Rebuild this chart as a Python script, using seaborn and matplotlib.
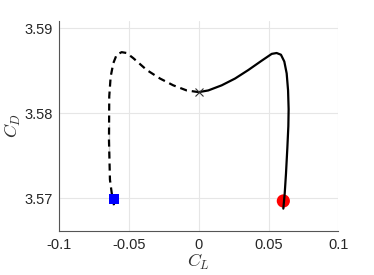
import numpy as np
import pandas as pd
import matplotlib
matplotlib.use("Agg")
import matplotlib.pyplot as plt
import seaborn as sns

# solid branch (positive C_L)
cl_pos = [0.0, 0.0068, 0.0164, 0.0260, 0.0355, 0.0451, 0.0523, 0.0558,
          0.0589, 0.0613, 0.0630, 0.0640, 0.0644, 0.0642, 0.0635, 0.0625, 0.0616, 0.0606]
cd_pos = [3.5825, 3.5827, 3.5833, 3.5841, 3.5851, 3.5862, 3.5870, 3.5871,
          3.5869, 3.5861, 3.5847, 3.5827, 3.5805, 3.5785, 3.5760, 3.5729, 3.5706, 3.5688]

# dashed branch (negative C_L)
cl_neg = [0.0, -0.0087, -0.0183, -0.0278, -0.0373, -0.0470, -0.0517, -0.0553,
          -0.0589, -0.0613, -0.0632, -0.0642, -0.0644, -0.0644, -0.0637, -0.0624, -0.0608]
cd_neg = [3.5825, 3.5827, 3.5833, 3.5841, 3.5851, 3.5865, 3.5871, 3.5872,
          3.5869, 3.5859, 3.5843, 3.5820, 3.5788, 3.5749, 3.5722, 3.5706, 3.5692]

start_pt = (0.0, 3.5825)
end_neg = (-0.0608, 3.5699)
end_pos = (0.0606, 3.5697)

sns.set_theme(style="white")
plt.rcParams["font.family"] = ["Liberation Sans", "DejaVu Sans"]
plt.rcParams["mathtext.fontset"] = "cm"

fig = plt.figure(figsize=(3.74, 2.75), dpi=100)
ax = fig.add_axes([0.1586, 0.161, 0.7459, 0.7637])

df_pos = pd.DataFrame({"CL": cl_pos, "CD": cd_pos})
df_neg = pd.DataFrame({"CL": cl_neg, "CD": cd_neg})

sns.lineplot(data=df_neg, x="CL", y="CD", sort=False, color="black",
             linewidth=1.6, linestyle=(0, (3.2, 2.2)), ax=ax)
sns.lineplot(data=df_pos, x="CL", y="CD", sort=False, color="black",
             linewidth=1.6, ax=ax)

sns.scatterplot(x=[end_neg[0]], y=[end_neg[1]], marker="s", color="#0000ff",
                s=50, edgecolor="none", ax=ax, zorder=5)
sns.scatterplot(x=[end_pos[0]], y=[end_pos[1]], marker="o", color="#ff0000",
                s=90, edgecolor="none", ax=ax, zorder=1)
ax.plot(start_pt[0], start_pt[1], marker="x", color="#333333", markersize=6,
        markeredgewidth=0.8, linestyle="none", zorder=6)

ax.set_xlim(-0.1, 0.1)
ax.set_ylim(3.5662, 3.5909)
ax.set_xticks([-0.1, -0.05, 0, 0.05, 0.1])
ax.set_xticklabels(["-0.1", "-0.05", "0", "0.05", "0.1"])
ax.set_yticks([3.57, 3.58, 3.59])
ax.set_yticklabels(["3.57", "3.58", "3.59"])

ax.grid(True, color="#e6e6e6", linewidth=0.8)
ax.set_axisbelow(True)
for side in ["top", "right"]:
    ax.spines[side].set_visible(False)
for side in ["left", "bottom"]:
    ax.spines[side].set_color("#555555")
    ax.spines[side].set_linewidth(0.8)
ax.tick_params(axis="both", direction="in", length=3, width=0.6, color="#555555",
               labelsize=10.5, labelcolor="#262626", pad=5)

ax.set_xlabel("$C_L$", fontsize=13, color="#333333", labelpad=0)
ax.set_ylabel("$C_D$", fontsize=13, color="#333333", labelpad=1)

fig.savefig("out.png", dpi=100)
